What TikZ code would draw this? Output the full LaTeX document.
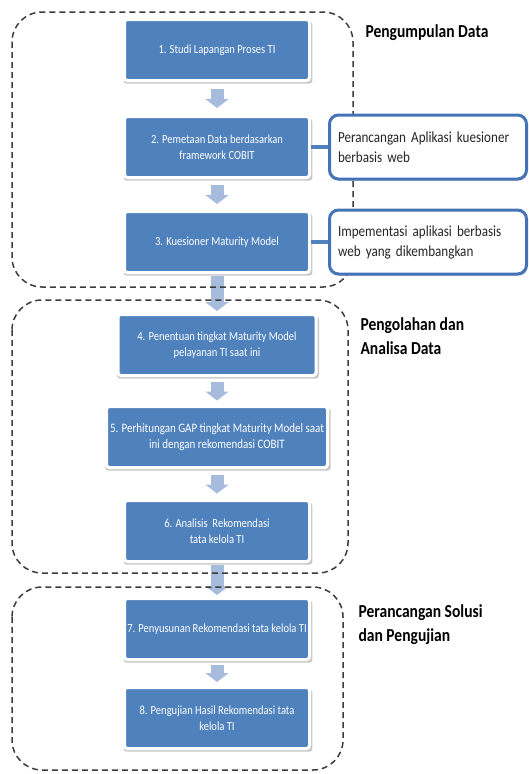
\documentclass[tikz,border=0pt]{standalone}
\usepackage{fontspec}
\newfontfamily\diagfont{Carlito}[FakeStretch=0.85]
\usetikzlibrary{arrows.meta,shadows}
\definecolor{stepblue}{RGB}{79,129,189}
\definecolor{flowblue}{RGB}{167,188,220}
\definecolor{noteblue}{RGB}{70,115,182}
\definecolor{zonegray}{RGB}{60,60,60}
\begin{document}
\begin{tikzpicture}[x=1pt, y=-1pt,
    stepbox/.style={fill=stepblue, draw=white, line width=3pt, rounded corners=3pt,
      minimum width=185pt, minimum height=61pt, inner sep=2pt, align=center, text=white,
      font=\diagfont\fontsize{12.4}{15.5}\selectfont,
      drop shadow={shadow xshift=1pt, shadow yshift=-2.5pt, shadow scale=1.02, opacity=0.3, fill=black!70}},
    notebox/.style={fill=white, draw=noteblue, line width=3pt, rounded corners=9pt,
      minimum width=197pt, minimum height=64pt, text width=180pt, align=left, text=black!85,
      font=\diagfont\fontsize{15.4}{20}\selectfont,
      drop shadow={shadow xshift=1pt, shadow yshift=-2pt, opacity=0.25, fill=black!60}},
    flow/.style={flowblue, line width=13pt, -{Triangle[width=23pt,length=9pt]}},
    link/.style={stepblue, line width=4pt},
    zone/.style={zonegray, line width=1.5pt, dash pattern=on 6pt off 4pt, rounded corners=30pt},
    zonelabel/.style={anchor=west, align=left, font=\diagfont\bfseries\fontsize{18.3}{24}\selectfont}]
  \useasboundingbox (0,0) rectangle (529,774);

  \node[stepbox] (s1) at (217,50) {1. Studi Lapangan Proses TI};
  \node[stepbox] (s2) at (217,147) {2. Pemetaan Data berdasarkan\\framework COBIT};
  \node[stepbox] (s3) at (217,242) {3. Kuesioner Maturity Model};
  \node[stepbox, minimum width=198pt] (s4) at (217,345) {4. Penentuan tingkat Maturity Model\\pelayanan TI saat ini};
  \node[stepbox, minimum width=221pt, font=\diagfont\fontsize{12.9}{15.5}\selectfont] (s5) at (217,437) {5. Perhitungan GAP tingkat Maturity Model saat\\ini dengan rekomendasi COBIT};
  \node[stepbox] (s6) at (217,531) {6. Analisis~ Rekomendasi\\tata kelola TI};
  \node[stepbox] (s7) at (217,629) {7. Penyusunan Rekomendasi tata kelola TI};
  \node[stepbox] (s8) at (217,718) {8. Pengujian Hasil Rekomendasi tata\\kelola TI};

  \foreach \a/\b/\s in {s1/s2/7, s2/s3/6, s4/s5/4.5, s5/s6/5.5, s7/s8/4}
    \draw[flow, shorten >=\s pt, shorten <=\s pt] (\a) -- (\b);
  \foreach \a/\b in {s3/s4, s6/s7}
    \draw[flow, shorten >=2pt, shorten <=2pt] (\a) -- (\b);

  \draw[zone] (12,12) rectangle (353,287);
  \draw[zone] (12,300) rectangle (348,573);
  \draw[zone] (12,587) rectangle (343,770);

  \node[notebox] (c1) at (428,147) {Perancangan Aplikasi kuesioner\\berbasis web};
  \node[notebox] (c2) at (428,242) {Impementasi aplikasi berbasis\\web yang dikembangkan};
  \draw[link] (s2) -- (c1);
  \draw[link] (s3) -- (c2);

  \node[zonelabel] (l1) at (362,33) {Pengumpulan Data};
  \node[zonelabel] (l2) at (357,336) {Pengolahan dan\\Analisa Data};
  \node[zonelabel] (l3) at (355,625) {Perancangan Solusi\\dan Pengujian};
\end{tikzpicture}
\end{document}
